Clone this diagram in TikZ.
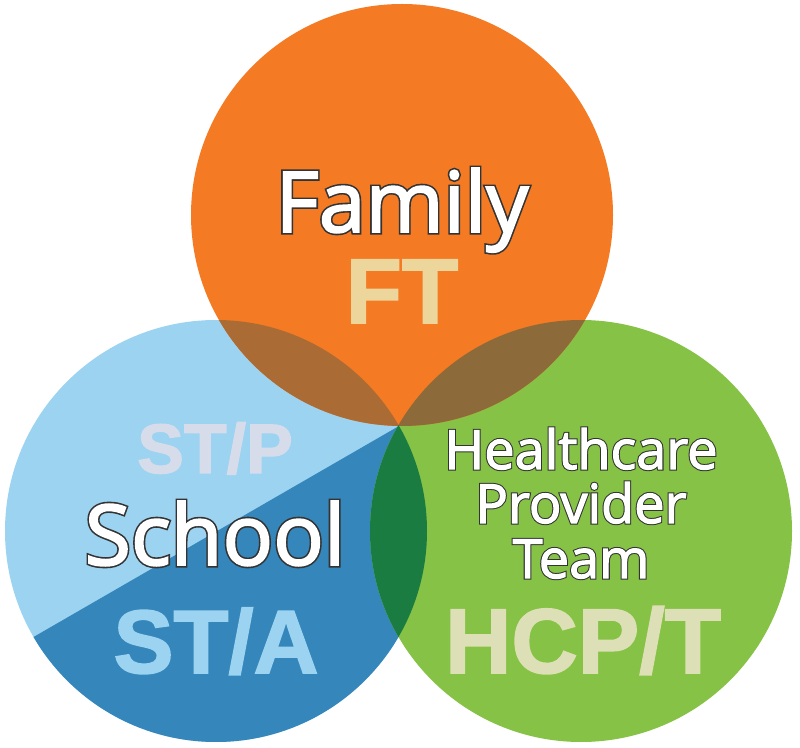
\documentclass[tikz,border=0pt]{standalone}
\usepackage{fontspec}
\newfontfamily\wordfont{Open Sans}[FakeBold=2.2]
\newfontfamily\rimface{Open Sans}[FakeBold=6]
\newfontfamily\tagfont{Liberation Sans}[BoldFeatures={FakeBold=1.8}]
\newcommand\rimword[1]{{\color{rim}\rimface\rlap{#1}}#1}

\definecolor{familyorange}{HTML}{F47A23}
\definecolor{schoollight}{HTML}{9CD3F1}
\definecolor{schooldark}{HTML}{3586BB}
\definecolor{healthgreen}{HTML}{86C246}
\definecolor{leftbrown}{HTML}{AA6B34}
\definecolor{rightbrown}{HTML}{8C6A3A}
\definecolor{deepgreen}{HTML}{1B7C41}
\definecolor{rim}{HTML}{333333}
\definecolor{fttext}{HTML}{EDD69B}
\definecolor{stptext}{HTML}{D7DCEB}
\definecolor{statext}{HTML}{9BD3F1}
\definecolor{hcptext}{HTML}{DDE0B6}

\tikzset{
  bigword/.style={font=\wordfont\fontsize{#1}{#1}\selectfont, text=white, anchor=base, inner sep=0pt},
  tagword/.style={font=\tagfont\bfseries\fontsize{#1}{#1}\selectfont, anchor=base, inner sep=0pt}
}

\begin{document}
\begin{tikzpicture}[x=1pt,y=1pt]
    \useasboundingbox (0,0) rectangle (800,747);
    \def\rad{211}
    \coordinate (F) at (402,532);
    \coordinate (S) at (216,216);
    \coordinate (H) at (581,216);
    \coordinate (P) at (399,321);

    \fill[schoollight] (S) circle (\rad);
    \begin{scope}
        \clip (S) circle (\rad);
        \fill[schooldark] (P) -- +(210:700) -- (-300,-100) -- (800,-100) -- (800,321) -- cycle;
    \end{scope}
    \fill[healthgreen] (H) circle (\rad);
    \fill[familyorange] (F) circle (\rad);
    \begin{scope}
        \clip (F) circle (\rad);
        \fill[leftbrown] (S) circle (\rad);
        \fill[rightbrown] (H) circle (\rad);
    \end{scope}
    \begin{scope}
        \clip (S) circle (\rad);
        \fill[deepgreen] (H) circle (\rad);
    \end{scope}

    \node[bigword=84] (family) at (402,515) {\rimword{Family}};
    \node[tagword=92, text=fttext] (ft) at (402,424) {FT};

    \node[tagword=70, text=stptext] (stp) at (215,274) {ST/P};
    \node[bigword=84] (school) at (215,182) {\rimword{School}};
    \node[tagword=90, text=statext] (sta) at (216,74) {ST/A};

    \node[bigword=54] (health) at (581,278) {\rimword{Healthcare}};
    \node[bigword=54] (provider) at (581,224) {\rimword{Provider}};
    \node[bigword=54] (team) at (581,169) {\rimword{Team}};
    \node[tagword=92, text=hcptext] (hcpt) at (583,74) {HCP/T};
\end{tikzpicture}
\end{document}
